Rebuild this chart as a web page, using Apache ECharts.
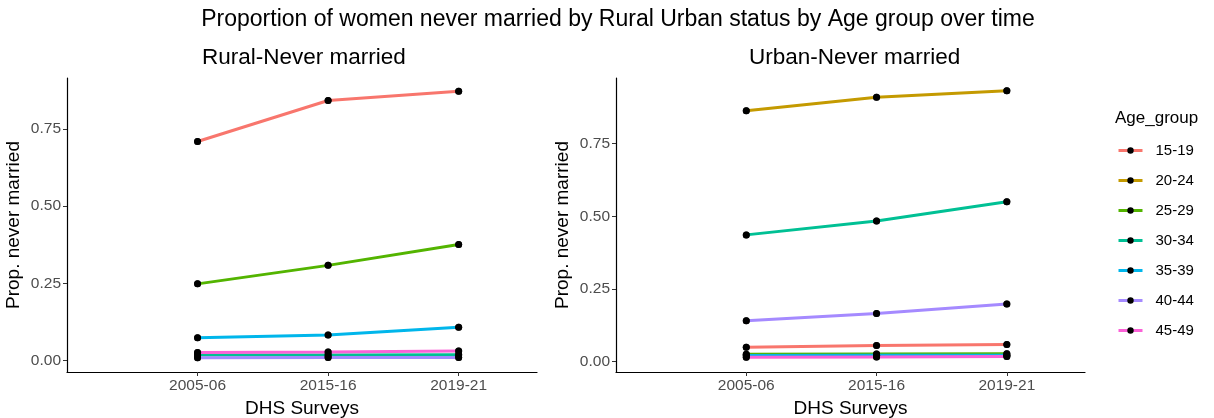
<!DOCTYPE html>
<html>
<head>
<meta charset="utf-8">
<script src="https://cdn.jsdelivr.net/npm/echarts@6/dist/echarts.min.js"></script>
<style>
  html, body { margin: 0; padding: 0; background: #fff; }
  #chart { width: 1214px; height: 418px; }
</style>
</head>
<body>
<div id="chart"></div>
<script>
// Survey rounds shown on the x axis (placed at positions 1, 2, 3)
const surveys = ['2005-06', '2015-16', '2019-21'];
const ageGroups = ['15-19', '20-24', '25-29', '30-34', '35-39', '40-44', '45-49'];
const groupColors = ['#F8766D', '#C49A00', '#53B400', '#00C094', '#00B6EB', '#A58AFF', '#FB61D7'];
const yTicks = [0, 0.25, 0.5, 0.75];

// Rural: proportion never married by age group (null = not shown)
const rural1519 = [0.710, 0.843, 0.873];
const rural2024 = null;
const rural2529 = [0.248, 0.308, 0.376];
const rural3034 = [0.017, 0.017, 0.018];
const rural3539 = [0.073, 0.082, 0.107];
const rural4044 = [0.008, 0.009, 0.009];
const rural4549 = [0.025, 0.027, 0.030];

// Urban: proportion never married by age group
const urban1519 = [0.049, 0.055, 0.059];
const urban2024 = [0.863, 0.910, 0.932];
const urban2529 = [0.025, 0.026, 0.027];
const urban3034 = [0.436, 0.484, 0.550];
const urban3539 = [0.021, 0.022, 0.022];
const urban4044 = [0.140, 0.165, 0.198];
const urban4549 = [0.015, 0.016, 0.017];

const ruralSets = [rural1519, rural2024, rural2529, rural3034, rural3539, rural4044, rural4549];
const urbanSets = [urban1519, urban2024, urban2529, urban3034, urban3539, urban4044, urban4549];

const FONT = '"Liberation Sans", Arial, sans-serif';

function toPoints(values) {
  return values.map((v, i) => [i + 1, v]);
}

function xAxis(gridIndex) {
  return {
    type: 'value', gridIndex, min: 0, max: 3.6,
    name: 'DHS Surveys', nameLocation: 'middle', nameGap: 24,
    nameTextStyle: { fontFamily: FONT, fontSize: 19, color: '#000' },
    axisLine: { show: true, onZero: false, lineStyle: { color: '#000', width: 1.2 } },
    axisTick: { show: true, length: 4, lineStyle: { color: '#333' }, customValues: [1, 2, 3] },
    axisLabel: {
      customValues: [1, 2, 3], margin: 6,
      fontFamily: FONT, fontSize: 15.5, color: '#4D4D4D',
      formatter: v => surveys[Math.round(v) - 1] || ''
    },
    splitLine: { show: false }
  };
}

function yAxis(gridIndex, min, max) {
  return {
    type: 'value', gridIndex, min, max,
    name: 'Prop. never married', nameLocation: 'middle', nameGap: 44,
    nameTextStyle: { fontFamily: FONT, fontSize: 19, color: '#000' },
    axisLine: { show: true, onZero: false, lineStyle: { color: '#000', width: 1.2 } },
    axisTick: { show: true, length: 4, lineStyle: { color: '#333' }, customValues: yTicks },
    axisLabel: {
      customValues: yTicks, margin: 6,
      fontFamily: FONT, fontSize: 15.5, color: '#4D4D4D',
      formatter: v => v.toFixed(2)
    },
    splitLine: { show: false }
  };
}

const series = [];
[ruralSets, urbanSets].forEach((sets, panel) => {
  sets.forEach((values, gi) => {
    if (!values) return;
    series.push({
      type: 'line', name: ageGroups[gi],
      xAxisIndex: panel, yAxisIndex: panel,
      data: toPoints(values),
      lineStyle: { color: groupColors[gi], width: 3 },
      itemStyle: { color: '#000' },
      symbol: 'circle', symbolSize: 7, showSymbol: true,
      emphasis: { disabled: true }, animation: false, z: 2
    });
  });
  // Points drawn over every line
  sets.forEach((values) => {
    if (!values) return;
    series.push({
      type: 'scatter', xAxisIndex: panel, yAxisIndex: panel,
      data: toPoints(values), symbolSize: 7,
      itemStyle: { color: '#000' }, silent: true, animation: false, z: 5
    });
  });
});

const chart = echarts.init(document.getElementById('chart'), null, { renderer: 'canvas' });
chart.setOption({
  animation: false,
  backgroundColor: '#fff',
  title: [
    { text: 'Proportion of women never married by Rural Urban status by Age group over time',
      left: 613, textAlign: 'center', top: 3,
      textStyle: { fontFamily: FONT, fontSize: 23, fontWeight: 'normal', color: '#000' } },
    { text: 'Rural-Never married', left: 197, top: 41,
      textStyle: { fontFamily: FONT, fontSize: 22.5, fontWeight: 'normal', color: '#000' } },
    { text: 'Urban-Never married', left: 744, top: 41,
      textStyle: { fontFamily: FONT, fontSize: 22.5, fontWeight: 'normal', color: '#000' } }
  ],
  graphic: [
    { type: 'text', left: 1115, top: 110,
      style: { text: 'Age_group', font: '17px ' + FONT, fill: '#000' } }
  ],
  legend: {
    orient: 'vertical', left: 1117, top: 143, padding: 0,
    data: ageGroups, itemWidth: 24, itemHeight: 8, itemGap: 15,
    lineStyle: { width: 3 },
    textStyle: { fontFamily: FONT, fontSize: 15, color: '#000', padding: [0, 0, 0, 8] },
    selectedMode: false
  },
  grid: [
    { left: 67, top: 78, width: 470, height: 294, outerBoundsMode: 'none' },
    { left: 616, top: 78, width: 469, height: 294, outerBoundsMode: 'none' }
  ],
  xAxis: [xAxis(0), xAxis(1)],
  yAxis: [yAxis(0, -0.038, 0.916), yAxis(1, -0.036, 0.976)],
  series
});
</script>
</body>
</html>
